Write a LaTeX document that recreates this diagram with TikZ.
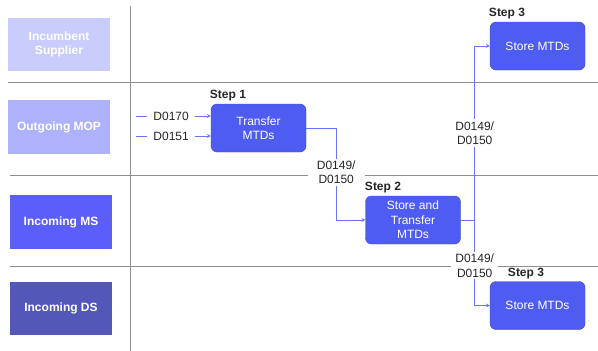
\documentclass[tikz,border=0pt]{standalone}
\usepackage{fontspec}
\setmainfont{Liberation Sans}
\definecolor{stepblue}{HTML}{4F5CF2}
\definecolor{flowblue}{HTML}{6A72F6}
\definecolor{gridgray}{HTML}{8E8E8E}
\definecolor{laneA}{HTML}{CACDFB}
\definecolor{laneB}{HTML}{AEB2FA}
\definecolor{laneC}{HTML}{5B5EFB}
\definecolor{laneD}{HTML}{5357B8}
\newcommand{\basefont}{\fontsize{12}{14.5}\selectfont}
\newcommand{\rightend}{598}
\tikzset{lane/.style={minimum width=102pt,minimum height=53pt,inner sep=0pt,text=white,font=\basefont\bfseries,align=center},
  stepbox/.style={draw=stepblue!75!black,fill=stepblue,rounded corners=6pt,minimum width=95pt,minimum height=48pt,inner sep=0pt,text=white,font=\basefont,align=center},
  steptitle/.style={font=\basefont\bfseries,text=black!85,inner sep=0pt},
  flow/.style={->,flowblue,line width=0.7pt},
  tag/.style={fill=white,text=black!85,font=\basefont,align=center,inner xsep=4pt,inner ysep=2pt},
  divider/.style={gridgray,line width=0.8pt}}

\begin{document}
\begin{tikzpicture}[>=stealth,x=1pt,y=-1pt]
    \useasboundingbox (0,0) rectangle (\rightend,351);
    % draw the swimlane dividers
    \draw[divider] (130,6) -- (130,351);
    \foreach \y/\xstart in {82.5/8, 175/10, 266/10}
    \draw[divider] (\xstart,\y) -- (\rightend,\y);
    % draw the lane headers
    \node[lane,fill=laneA] (supp) at (59,44.5) {Incumbent\\Supplier};
    \node[lane,fill=laneB,minimum height=54pt] (mop) at (59,127) {Outgoing MOP};
    \node[lane,fill=laneC,minimum height=54pt] (ms) at (61,222) {Incoming MS};
    \node[lane,fill=laneD] (ds) at (61,308.5) {Incoming DS};
    % draw the steps
    \node[stepbox] (transfer) at (258.5,128) {Transfer\\MTDs};
    \node[stepbox] (storetop) at (537.5,46) {Store MTDs};
    \node[stepbox] (storetrans) at (413,220) {Store and\\Transfer\\MTDs};
    \node[stepbox] (storebot) at (537.5,305.5) {Store MTDs};
    \node[steptitle] (step1) at (228,95.5) {Step 1};
    \node[steptitle] (step3a) at (507,13.5) {Step 3};
    \node[steptitle] (step2) at (383,187.5) {Step 2};
    \node[steptitle] (step3b) at (526,274) {Step 3};
    % draw the incoming flows
    \coordinate (in1) at (136,116);
    \coordinate (in2) at (136,136);
    \draw[flow] (in1) -- (in1 -| transfer.west) node[tag,pos=0.47,inner xsep=6pt] {D0170};
    \draw[flow] (in2) -- (in2 -| transfer.west) node[tag,pos=0.47,inner xsep=6pt] {D0151};
    % draw the flows between steps
    \draw[flow] (transfer.east) -- ++(30,0) |- (storetrans.west) node[tag,pos=0.24,inner xsep=9pt] {D0149/\\D0150};
    \draw[flow] (storetrans.east) -- ++(14,0) coordinate (fork) |- (storetop.west) node[tag,pos=0.25] {D0149/\\D0150};
    \draw[flow] (fork) |- (storebot.west) node[tag,pos=0.266] {D0149/\\D0150};
\end{tikzpicture}
\end{document}
